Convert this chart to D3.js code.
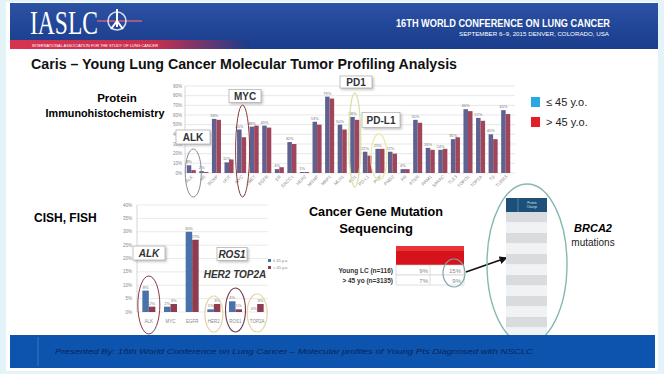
<!DOCTYPE html>
<html>
<head>
<meta charset="utf-8">
<style>
  body { margin: 0; background: #fff; }
  svg { display: block; font-family: "Liberation Sans", Arial, sans-serif; }
</style>
</head>
<body>
<div id="chart"></div>
<script src="https://cdn.jsdelivr.net/npm/d3@7"></script>
<script>
// IHC panel (top chart): % positive, young (<=45) vs older (>45)
var ihcMarkers = ["ALK","AR","BCRP","cKIT","MYC","cMET","EGFR","ER","ERCC1","HER2","MGMT","MRP1","MLH1",
                  "PD1","PD-L1","PGP","PMS2","PR","PTEN","RRM1","SPARC","TLE3","TOPO1","TOP2A","TS","TUBB3"];
var ihcYoung = [8, 2, 56, 11, 45, 48, 49, 4, 32, 1, 53, 79, 50, 58, 22, 25, 22, 4, 55, 26, 24, 35, 66, 57, 40, 65];
var ihcOld   = [3, 1, 55, 14, 37, 49, 47, 6, 30, 1, 50, 77, 45, 55, 18, 25, 20, 4, 52, 24, 25, 37, 64, 54, 35, 61];
var ihcTicks = [0, 10, 20, 30, 40, 50, 60, 70, 80, 90];

// CISH / FISH (lower left chart)
var ishGenes = ["ALK","MYC","EGFR","HER2","ROS1","TOP2A"];
var ishYoung = [8, 2, 30, 1, 4, 0];
var ishOld   = [2, 3, 27, 3, 1, 3];
var ishTicks = [0, 5, 10, 15, 20, 25, 30, 35, 40];

// mutation sequencing table
var seqRows = ["Young LC (n=116)", "> 45 yo (n=3135)"];
var seqCol1 = ["9%", "7%"];
var seqCol2 = ["15%", "9%"];

var legendLabels = ["\u2264 45 y.o.", "> 45 y.o."];
var blue = "#5f6290", red = "#a1465a";
var blue2 = "#4a72aa", red2 = "#8e3c50";

var W = 664, H = 374;
var svg = d3.select("#chart").append("svg").attr("width", W).attr("height", H);
var defs = svg.append("defs");

var hg = defs.append("linearGradient").attr("id", "hdr").attr("x1", 0).attr("y1", 0).attr("x2", 0).attr("y2", 1);
hg.append("stop").attr("offset", "0%").attr("stop-color", "#2c52a3");
hg.append("stop").attr("offset", "100%").attr("stop-color", "#1a3c8c");
var rg = defs.append("linearGradient").attr("id", "redstrip").attr("x1", 0).attr("y1", 0).attr("x2", 1).attr("y2", 0);
rg.append("stop").attr("offset", "0%").attr("stop-color", "#d63350");
rg.append("stop").attr("offset", "60%").attr("stop-color", "#c8304e");
rg.append("stop").attr("offset", "100%").attr("stop-color", "#1a3c8c");
var fs = defs.append("filter").attr("id", "sh").attr("x", "-20%").attr("y", "-20%").attr("width", "150%").attr("height", "160%");
fs.append("feDropShadow").attr("dx", 1.5).attr("dy", 1.5).attr("stdDeviation", 1).attr("flood-color", "#999").attr("flood-opacity", 0.6);

// page frame
svg.append("rect").attr("x", 0).attr("y", 0).attr("width", W).attr("height", H).attr("fill", "#e3f3f8");
svg.append("rect").attr("x", 6).attr("y", 2).attr("width", W - 12).attr("height", H - 5).attr("fill", "#fff");

// header band
svg.append("rect").attr("x", 10).attr("y", 3).attr("width", 648).attr("height", 46).attr("fill", "url(#hdr)");
svg.append("rect").attr("x", 10).attr("y", 40).attr("width", 240).attr("height", 9).attr("fill", "url(#redstrip)");
svg.append("text").attr("x", 30).attr("y", 34).attr("fill", "#fff")
  .style("font-family", "'Liberation Serif', serif").attr("font-size", 34)
  .attr("textLength", 68).attr("lengthAdjust", "spacingAndGlyphs").text("IASLC");
var logo = svg.append("g").attr("transform", "translate(117,21)").attr("fill", "none");
logo.append("line").attr("x1", -20).attr("x2", 25).attr("y1", 0).attr("y2", 0).attr("stroke", "#c9607e").attr("stroke-width", 1.5);
logo.append("circle").attr("r", 9).attr("stroke", "#d9dce8").attr("stroke-width", 1.5);
logo.append("path").attr("d", "M0,-12 L0,6 M0,0 L-6,8 M0,0 L6,8").attr("stroke", "#fff").attr("stroke-width", 2);
svg.append("text").attr("x", 32).attr("y", 47).attr("fill", "#fff").attr("font-size", 4.2)
  .attr("textLength", 126).attr("lengthAdjust", "spacingAndGlyphs")
  .text("INTERNATIONAL ASSOCIATION FOR THE STUDY OF LUNG CANCER");
svg.append("text").attr("x", 610).attr("y", 27).attr("text-anchor", "end").attr("fill", "#fff")
  .attr("font-size", 11).attr("font-weight", "bold").attr("textLength", 214).attr("lengthAdjust", "spacingAndGlyphs")
  .text("16TH WORLD CONFERENCE ON LUNG CANCER");
svg.append("text").attr("x", 609).attr("y", 36).attr("text-anchor", "end").attr("fill", "#fff")
  .attr("font-size", 6.2).attr("textLength", 150).attr("lengthAdjust", "spacingAndGlyphs")
  .text("SEPTEMBER 6\u20139, 2015     DENVER, COLORADO, USA");

// title
svg.append("text").attr("x", 31).attr("y", 69).attr("font-size", 14).attr("font-weight", "bold").attr("fill", "#111")
  .attr("textLength", 426).attr("lengthAdjust", "spacingAndGlyphs")
  .text("Caris \u2013 Young Lung Cancer Molecular  Tumor Profiling  Analysis");

// section headings
svg.append("text").attr("x", 117).attr("y", 102).attr("text-anchor", "middle").attr("font-size", 11.5).attr("font-weight", "bold").text("Protein");
svg.append("text").attr("x", 105).attr("y", 117).attr("text-anchor", "middle").attr("font-size", 10.8).attr("font-weight", "bold")
  .text("Immunohistochemistry");
svg.append("text").attr("x", 34).attr("y", 222).attr("font-size", 12).attr("font-weight", "bold").text("CISH, FISH");
svg.append("text").attr("x", 376).attr("y", 216).attr("text-anchor", "middle").attr("font-size", 13).attr("font-weight", "bold")
  .attr("textLength", 134).attr("lengthAdjust", "spacingAndGlyphs").text("Cancer Gene Mutation");
svg.append("text").attr("x", 376).attr("y", 233).attr("text-anchor", "middle").attr("font-size", 13).attr("font-weight", "bold").text("Sequencing");

// main legend
var leg = svg.append("g");
legendLabels.forEach(function(l, i) {
  leg.append("rect").attr("x", 531).attr("y", 97 + i * 20).attr("width", 9).attr("height", 10)
    .attr("fill", i === 0 ? "#27a9e1" : "#e31e24");
  leg.append("text").attr("x", 546).attr("y", 106 + i * 20).attr("font-size", 11).attr("fill", "#222").text(l);
});

// ---------- top chart: IHC ----------
var x = d3.scaleBand().domain(ihcMarkers).range([185, 512]);
var y = d3.scaleLinear().domain([0, 90]).range([173, 86]);
var topG = svg.append("g");
topG.selectAll(".grid").data(ihcTicks).join("line")
  .attr("x1", 185).attr("x2", 515).attr("y1", d => y(d)).attr("y2", d => y(d))
  .attr("stroke", "#d8d8d8").attr("stroke-width", 0.6);
topG.append("line").attr("x1", 185).attr("x2", 185).attr("y1", y(90)).attr("y2", y(0)).attr("stroke", "#bbb").attr("stroke-width", 0.6);
topG.selectAll(".yl").data(ihcTicks).join("text")
  .attr("x", 182).attr("y", d => y(d) + 1.6).attr("text-anchor", "end").attr("font-size", 4.5).attr("fill", "#888")
  .text(d => d + "%");
var bw = x.bandwidth() * 0.36;
topG.selectAll(".by").data(ihcMarkers).join("rect")
  .attr("x", d => x(d) + x.bandwidth() / 2 - bw).attr("width", bw)
  .attr("y", (d, i) => y(ihcYoung[i])).attr("height", (d, i) => y(0) - y(ihcYoung[i])).attr("fill", blue);
topG.selectAll(".bo").data(ihcMarkers).join("rect")
  .attr("x", d => x(d) + x.bandwidth() / 2).attr("width", bw)
  .attr("y", (d, i) => y(ihcOld[i])).attr("height", (d, i) => y(0) - y(ihcOld[i])).attr("fill", red);
topG.selectAll(".vl").data(ihcMarkers).join("text")
  .attr("x", d => x(d) + x.bandwidth() / 2 - bw / 2).attr("y", (d, i) => y(ihcYoung[i]) - 2)
  .attr("text-anchor", "middle").attr("font-size", 4).attr("fill", "#777").text((d, i) => ihcYoung[i] + "%");
topG.selectAll(".xl").data(ihcMarkers).join("text")
  .attr("transform", d => "translate(" + (x(d) + x.bandwidth() / 2 + 2) + ",177) rotate(-45)")
  .attr("text-anchor", "end").attr("font-size", 4.5).attr("fill", "#888").text(d => d);

function box(g, cx, cy, w, h, label, italic) {
  g.append("rect").attr("x", cx - w / 2).attr("y", cy - h / 2).attr("width", w).attr("height", h)
    .attr("fill", "#fff").attr("stroke", "#aaa").attr("stroke-width", 0.7).attr("filter", "url(#sh)");
  g.append("text").attr("x", cx).attr("y", cy + 3.5).attr("text-anchor", "middle").attr("font-size", 10)
    .attr("font-weight", "bold").attr("font-style", italic ? "italic" : "normal").attr("fill", "#333").text(label);
}
function ell(g, cx, cy, rx, ry, col, w) {
  g.append("ellipse").attr("cx", cx).attr("cy", cy).attr("rx", rx).attr("ry", ry)
    .attr("fill", "none").attr("stroke", col).attr("stroke-width", w || 1);
}
var mid = function(d) { return x(d) + x.bandwidth() / 2; };
ell(topG, mid("ALK") + 2, 173, 8, 24, "#8c8a9a");
ell(topG, mid("MYC") + 1, 151, 7, 46, "#8a3a3a");
ell(topG, mid("PD1"), 140, 6, 47, "#d5e3a6", 1.3);
ell(topG, mid("PGP") - 1, 157, 8, 23, "#ece8b0", 1.3);
box(topG, 193, 137, 34, 14, "ALK");
box(topG, 245, 96, 32, 13, "MYC");
box(topG, 356, 82, 32, 12, "PD1");
box(topG, 381, 120, 38, 15, "PD-L1");

// ---------- lower chart: CISH/FISH ----------
var x2 = d3.scaleBand().domain(ishGenes).range([138, 268]).paddingInner(0.4).paddingOuter(0.2);
var y2 = d3.scaleLinear().domain([0, 40]).range([312, 205]);
var low = svg.append("g");
low.selectAll(".g2").data(ishTicks).join("line")
  .attr("x1", 137).attr("x2", 268).attr("y1", d => y2(d)).attr("y2", d => y2(d))
  .attr("stroke", "#dcdcdc").attr("stroke-width", 0.6);
low.append("line").attr("x1", 137).attr("x2", 137).attr("y1", y2(40)).attr("y2", y2(0)).attr("stroke", "#bbb").attr("stroke-width", 0.6);
low.selectAll(".yl2").data(ishTicks).join("text")
  .attr("x", 132).attr("y", d => y2(d) + 1.6).attr("text-anchor", "end").attr("font-size", 4.5).attr("fill", "#888")
  .text(d => d + "%");
var bw2 = x2.bandwidth() / 2;
low.selectAll(".b2y").data(ishGenes).join("rect")
  .attr("x", d => x2(d)).attr("width", bw2)
  .attr("y", (d, i) => y2(ishYoung[i])).attr("height", (d, i) => y2(0) - y2(ishYoung[i])).attr("fill", blue2);
low.selectAll(".b2o").data(ishGenes).join("rect")
  .attr("x", d => x2(d) + bw2).attr("width", bw2)
  .attr("y", (d, i) => y2(ishOld[i])).attr("height", (d, i) => y2(0) - y2(ishOld[i])).attr("fill", red2);
low.selectAll(".v2y").data(ishGenes).join("text")
  .attr("x", d => x2(d) + bw2 / 2).attr("y", (d, i) => y2(ishYoung[i]) - 2)
  .attr("text-anchor", "middle").attr("font-size", 4).attr("fill", "#777").text((d, i) => ishYoung[i] + "%");
low.selectAll(".v2o").data(ishGenes).join("text")
  .attr("x", d => x2(d) + bw2 * 1.5).attr("y", (d, i) => y2(ishOld[i]) - 2)
  .attr("text-anchor", "middle").attr("font-size", 4).attr("fill", "#777").text((d, i) => ishOld[i] + "%");
low.selectAll(".xl2").data(ishGenes).join("text")
  .attr("x", d => x2(d) + x2.bandwidth() / 2).attr("y", 323).attr("text-anchor", "middle")
  .attr("font-size", 4.5).attr("fill", "#888").text(d => d);
legendLabels.forEach(function(l, i) {
  low.append("rect").attr("x", 268).attr("y", 259 + i * 7).attr("width", 3).attr("height", 3).attr("fill", i ? red2 : blue2);
  low.append("text").attr("x", 273).attr("y", 262 + i * 7).attr("font-size", 4).attr("fill", "#888").text(l);
});
var mid2 = function(d) { return x2(d) + x2.bandwidth() / 2; };
ell(low, mid2("ALK"), 305, 11, 29, "#8a3a4a");
ell(low, mid2("HER2"), 314, 9, 18, "#e6d3a6", 1.2);
ell(low, mid2("ROS1"), 310, 10, 22, "#6e3a55", 1.1);
ell(low, mid2("TOP2A"), 313, 10, 19, "#e6d3a6", 1.2);
box(low, 149, 253, 32, 14, "ALK", true);
box(low, 232, 254, 30, 13, "ROS1", true);
low.append("text").attr("x", 235).attr("y", 278).attr("text-anchor", "middle").attr("font-size", 10)
  .attr("font-weight", "bold").attr("font-style", "italic").attr("fill", "#333").text("HER2  TOP2A");

// ---------- sequencing table ----------
var tb = svg.append("g");
tb.append("rect").attr("x", 396).attr("y", 246).attr("width", 68).attr("height", 19).attr("fill", "#d7121b");
tb.append("rect").attr("x", 396).attr("y", 246).attr("width", 68).attr("height", 5).attr("fill", "#e8333a");
seqRows.forEach(function(r, i) {
  var yy = 265 + i * 10;
  tb.append("rect").attr("x", 396).attr("y", yy).attr("width", 68).attr("height", 10)
    .attr("fill", "#fff").attr("stroke", "#c9c9c9").attr("stroke-width", 0.6);
  tb.append("line").attr("x1", 430).attr("x2", 430).attr("y1", yy).attr("y2", yy + 10).attr("stroke", "#c9c9c9").attr("stroke-width", 0.6);
  tb.append("text").attr("x", 393).attr("y", yy + 7.5).attr("text-anchor", "end").attr("font-size", 6.5)
    .attr("font-weight", "bold").attr("fill", "#333").text(r);
  tb.append("text").attr("x", 428).attr("y", yy + 7.5).attr("text-anchor", "end").attr("font-size", 6).attr("fill", "#888").text(seqCol1[i]);
  tb.append("text").attr("x", 461).attr("y", yy + 7.5).attr("text-anchor", "end").attr("font-size", 6).attr("fill", "#888").text(seqCol2[i]);
});
ell(tb, 454, 273, 11, 14, "#7ea7aa", 1.2);
defs.append("marker").attr("id", "arr").attr("viewBox", "0 0 10 10").attr("refX", 8).attr("refY", 5)
  .attr("markerWidth", 5).attr("markerHeight", 5).attr("orient", "auto")
  .append("path").attr("d", "M0,0 L10,5 L0,10 z").attr("fill", "#111");
tb.append("line").attr("x1", 466).attr("y1", 272).attr("x2", 506).attr("y2", 258)
  .attr("stroke", "#111").attr("stroke-width", 1.6).attr("marker-end", "url(#arr)");

// ---------- BRCA2 mutation table ----------
var br = svg.append("g");
br.append("rect").attr("x", 506).attr("y", 198).attr("width", 41).attr("height", 14).attr("fill", "#1d4f78");
br.append("line").attr("x1", 518).attr("x2", 518).attr("y1", 198).attr("y2", 212).attr("stroke", "#8fb0c8").attr("stroke-width", 0.5);
br.append("text").attr("x", 532).attr("y", 204).attr("text-anchor", "middle").attr("font-size", 3).attr("fill", "#cfe0ee").text("Protein");
br.append("text").attr("x", 532).attr("y", 208).attr("text-anchor", "middle").attr("font-size", 3).attr("fill", "#cfe0ee").text("Change");
var brRows = d3.range(12);
br.selectAll(".br").data(brRows).join("rect")
  .attr("x", 506).attr("width", 41).attr("y", d => 212 + d * 10.5).attr("height", 10.5)
  .attr("fill", d => d % 2 === 0 ? "#d9dcdf" : "#f1f2f3");
ell(br, 527, 264, 40, 80, "#88b8b3", 1.4);
svg.append("text").attr("x", 593).attr("y", 232).attr("text-anchor", "middle").attr("font-size", 11)
  .attr("font-weight", "bold").attr("font-style", "italic").text("BRCA2");
svg.append("text").attr("x", 593).attr("y", 246).attr("text-anchor", "middle").attr("font-size", 10).attr("fill", "#222").text("mutations");

// ---------- bottom band ----------
svg.append("rect").attr("x", 10).attr("y", 335).attr("width", 645).attr("height", 33).attr("fill", "#0c54ad");
svg.append("line").attr("x1", 38).attr("x2", 38).attr("y1", 337).attr("y2", 366).attr("stroke", "#3a77c6").attr("stroke-width", 1);
svg.append("text").attr("x", 55).attr("y", 354).attr("font-size", 7.5).attr("font-style", "italic").attr("fill", "#0b2458")
  .attr("textLength", 478).attr("lengthAdjust", "spacingAndGlyphs")
  .text("Presented By: 16th World Conference on Lung Cancer \u2013 Molecular profiles of Young Pts Diagnosed with NSCLC");
</script>
</body>
</html>
